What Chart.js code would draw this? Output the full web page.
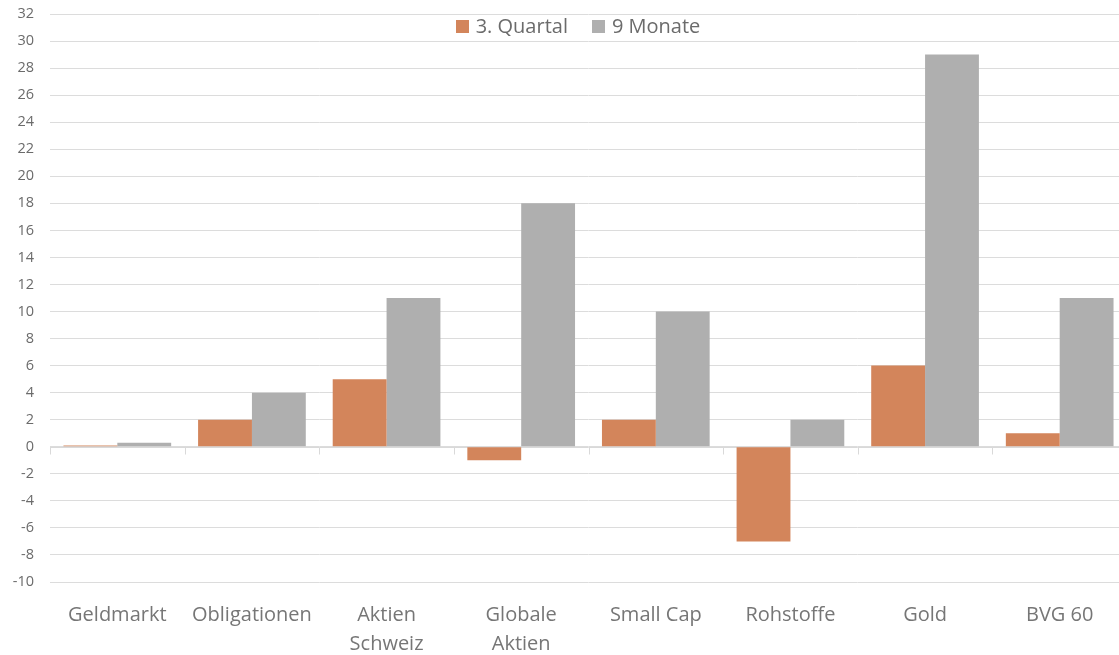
<!DOCTYPE html>
<html>
<head>
<meta charset="utf-8">
<title>Anlageklassen – Performance</title>
<script src="https://cdn.jsdelivr.net/npm/chart.js@4.4.1/dist/chart.umd.min.js"></script>
<style>
  html, body { margin: 0; padding: 0; background: #ffffff; overflow: hidden; }
  #wrap { width: 1127px; height: 655px; }
</style>
</head>
<body>
<div id="wrap"><canvas id="chart" width="1127" height="655"></canvas></div>
<script>
// Kategorien (Anlageklassen) und Renditen in Prozent
const categories = ['Geldmarkt', 'Obligationen', ['Aktien', 'Schweiz'], ['Globale', 'Aktien'], 'Small Cap', 'Rohstoffe', 'Gold', 'BVG 60'];
const quartal3 = [0.1, 2, 5, -1, 2, -7, 6, 1];
const neunMonate = [0.3, 4, 11, 18, 10, 2, 29, 11];
const seriesNames = ['3. Quartal', '9 Monate'];
const seriesColors = ['#D3855B', '#AFAFAF'];
const yMin = -10, yMax = 32, yStep = 2;

const FONT = "'Open Sans', 'Liberation Sans', sans-serif";

// Nulllinie mit Teilstrichen zwischen den Kategorien
const zeroAxis = {
  id: 'zeroAxis',
  beforeDatasetsDraw(chart) {
    const { ctx, chartArea, scales } = chart;
    const y = Math.round(scales.y.getPixelForValue(0)) + 0.5;
    const x0 = scales.x.getPixelForValue(0);
    const step = scales.x.getPixelForValue(1) - x0;
    ctx.save();
    ctx.strokeStyle = '#d9d9d9';
    ctx.lineWidth = 1;
    ctx.beginPath();
    ctx.moveTo(chartArea.left, y);
    ctx.lineTo(chartArea.right, y);
    for (let i = 0; i <= categories.length; i++) {
      const x = Math.round(x0 - step / 2 + i * step) + 0.5;
      ctx.moveTo(x, y);
      ctx.lineTo(x, y + 7);
    }
    ctx.stroke();
    ctx.restore();
  }
};

// Legende oben, innerhalb der Diagrammfläche
const topLegend = {
  id: 'topLegend',
  afterDraw(chart) {
    const { ctx } = chart;
    const centerX = 578, centerY = 26, box = 13, gapText = 7, gapItem = 24;
    ctx.save();
    ctx.font = '20px ' + FONT;
    ctx.textBaseline = 'middle';
    const widths = chart.data.datasets.map(d => box + gapText + ctx.measureText(d.label).width);
    const total = widths.reduce((a, b) => a + b, 0) + gapItem * (widths.length - 1);
    let x = centerX - total / 2;
    chart.data.datasets.forEach((d, i) => {
      ctx.fillStyle = d.backgroundColor;
      ctx.fillRect(Math.round(x), Math.round(centerY - box / 2), box, box);
      ctx.fillStyle = '#6b6b6b';
      ctx.fillText(d.label, x + box + gapText, centerY + 1);
      x += widths[i] + gapItem;
    });
    ctx.restore();
  }
};

new Chart(document.getElementById('chart'), {
  type: 'bar',
  data: {
    labels: categories,
    datasets: [
      { label: seriesNames[0], data: quartal3, backgroundColor: seriesColors[0] },
      { label: seriesNames[1], data: neunMonate, backgroundColor: seriesColors[1] }
    ]
  },
  plugins: [zeroAxis, topLegend],
  options: {
    responsive: false,
    animation: false,
    devicePixelRatio: 1,
    layout: { padding: { top: 14, right: 0, left: 0, bottom: 0 } },
    datasets: { bar: { categoryPercentage: 0.8, barPercentage: 1.0, borderWidth: 0 } },
    plugins: { legend: { display: false }, tooltip: { enabled: false } },
    scales: {
      x: {
        grid: { display: false, drawTicks: false },
        border: { display: false },
        ticks: {
          color: '#767676',
          font: { family: FONT, size: 20, lineHeight: 1.45 },
          padding: 19,
          maxRotation: 0,
          autoSkip: false
        },
        afterFit(scale) { scale.height = 73; }
      },
      y: {
        min: yMin,
        max: yMax,
        grid: { color: '#dcdcdc', lineWidth: 1, drawTicks: false },
        border: { display: false },
        ticks: {
          stepSize: yStep,
          color: '#6b6b6b',
          font: { family: FONT, size: 14.5 },
          padding: 16
        },
        afterFit(scale) {
          scale.width = 50;
          scale.paddingTop = 0;
          scale.paddingBottom = 0;
        }
      }
    }
  }
});
</script>
</body>
</html>
